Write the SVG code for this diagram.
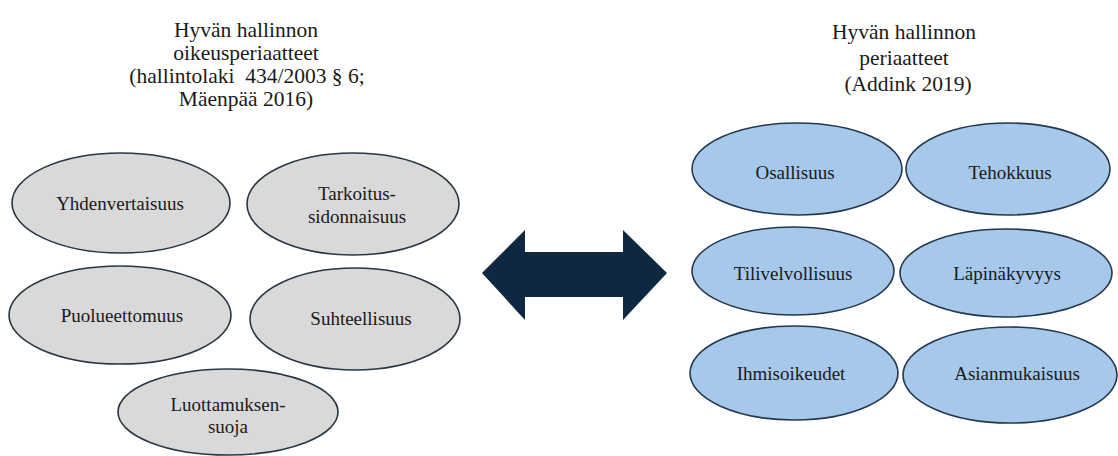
<svg xmlns="http://www.w3.org/2000/svg" width="1118" height="456" viewBox="0 0 1118 456">
<style>
.grey{fill:#d9d9d9;stroke:#2a3542;stroke-width:1.6}
.blue{fill:#a6c8eb;stroke:#23374d;stroke-width:1.6}
</style>
<rect width="1118" height="456" fill="#ffffff"/>
<g font-family="Liberation Serif, serif" fill="#1a1a1a" text-anchor="middle">
<g id="title-left" font-size="21.5">
<text x="246" y="37">Hyvän hallinnon</text>
<text x="246" y="60">oikeusperiaatteet</text>
<text x="247" y="83" xml:space="preserve">(hallintolaki  434/2003 § 6;</text>
<text x="246" y="106">Mäenpää 2016)</text>
</g>
<g id="title-right" font-size="21.5">
<text x="904" y="39">Hyvän hallinnon</text>
<text x="904" y="65">periaatteet</text>
<text x="908" y="91">(Addink 2019)</text>
</g>
<g font-size="19">
<g id="yhdenvertaisuus"><ellipse class="grey" cx="121" cy="203" rx="109" ry="50"/><text x="120" y="210">Yhdenvertaisuus</text></g>
<g id="tarkoitussidonnaisuus"><ellipse class="grey" cx="353" cy="204" rx="106" ry="51"/><text x="357" y="200">Tarkoitus-</text><text x="357" y="223">sidonnaisuus</text></g>
<g id="puolueettomuus"><ellipse class="grey" cx="120" cy="315" rx="111" ry="49"/><text x="122" y="322">Puolueettomuus</text></g>
<g id="suhteellisuus"><ellipse class="grey" cx="355" cy="319" rx="105" ry="51"/><text x="361" y="325">Suhteellisuus</text></g>
<g id="luottamuksensuoja"><ellipse class="grey" cx="228" cy="412" rx="110" ry="43"/><text x="228" y="411">Luottamuksen-</text><text x="228" y="433">suoja</text></g>
<g id="osallisuus"><ellipse class="blue" cx="797" cy="169" rx="105" ry="46"/><text x="795" y="179">Osallisuus</text></g>
<g id="tehokkuus"><ellipse class="blue" cx="1008" cy="169" rx="102" ry="46"/><text x="1010" y="179">Tehokkuus</text></g>
<g id="tilivelvollisuus"><ellipse class="blue" cx="793" cy="271" rx="101" ry="44"/><text x="793" y="280">Tilivelvollisuus</text></g>
<g id="lapinakyvyys"><ellipse class="blue" cx="1006" cy="273" rx="106" ry="44"/><text x="1007" y="280">Läpinäkyvyys</text></g>
<g id="ihmisoikeudet"><ellipse class="blue" cx="794" cy="373" rx="104" ry="47"/><text x="791" y="380">Ihmisoikeudet</text></g>
<g id="asianmukaisuus"><ellipse class="blue" cx="1010" cy="375" rx="107" ry="48"/><text x="1017" y="380">Asianmukaisuus</text></g>
</g>
</g>
<g id="connectors">
<polygon points="482,273 525,230 525,252 623,252 623,230 667,273 623,320 623,297 525,297 525,320" fill="#0e2841"/>
</g>
</svg>
